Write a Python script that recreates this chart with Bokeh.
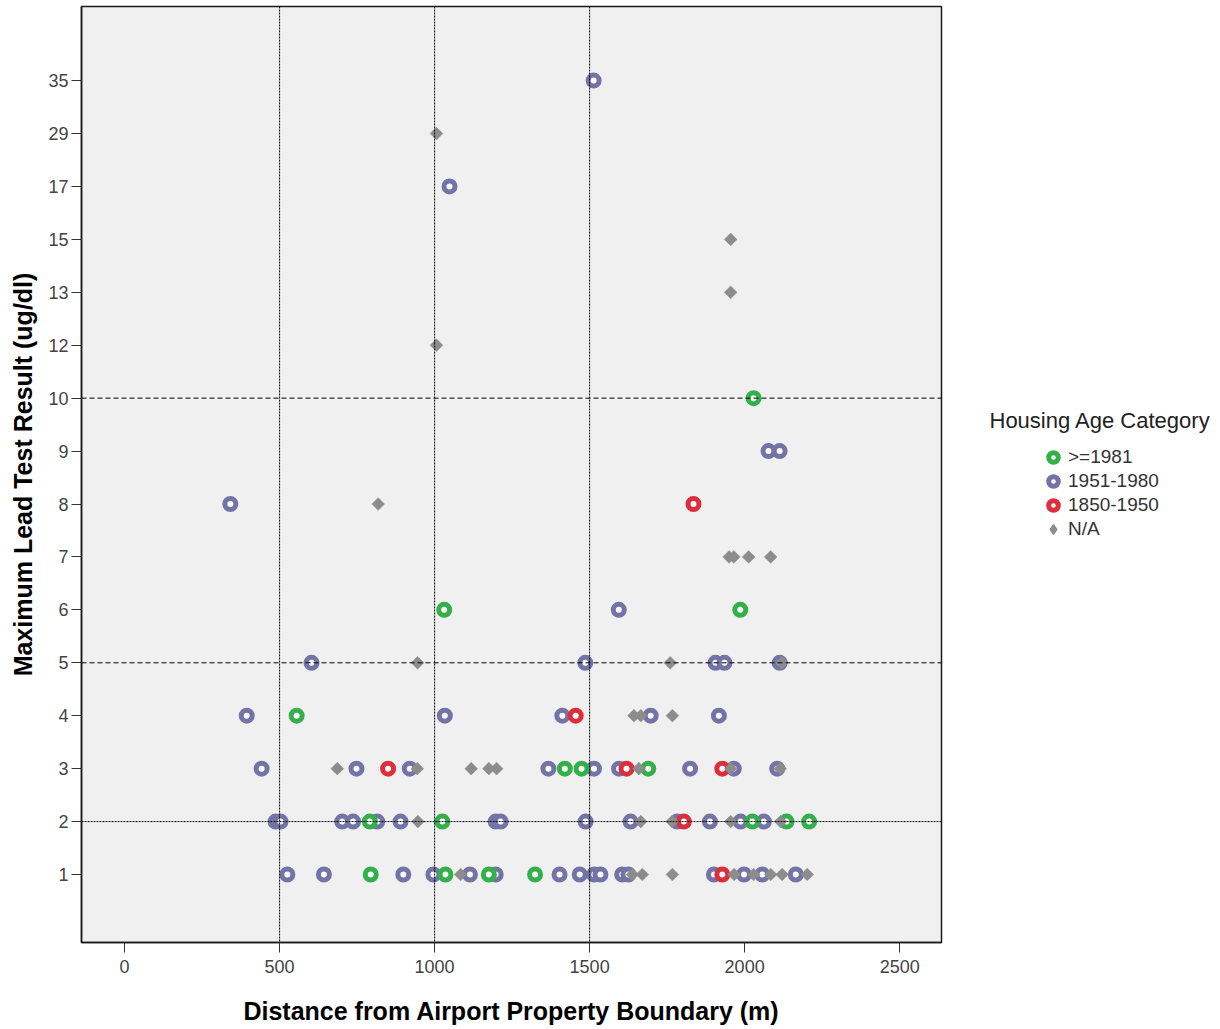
import math
from bokeh.plotting import figure
from bokeh.layouts import row
from bokeh.models import FixedTicker, Span, Legend, LegendItem, Label, ColumnDataSource, Range1d
from bokeh.embed import file_html
from bokeh.resources import INLINE

# ---------------- data ----------------
y_levels = [1, 2, 3, 4, 5, 6, 7, 8, 9, 10, 12, 13, 15, 17, 29, 35]
x_ticks = [0, 500, 1000, 1500, 2000, 2500]
ref_x = [500, 1000, 1500]
ref_y_dotted = [2]
ref_y_dashed = [5, 10]

legend_title = "Housing Age Category"
categories = [">=1981", "1951-1980", "1850-1950", "N/A"]

green_x = [794, 1035, 1175, 1324,
           791, 1025, 2025, 2135, 2208,
           1420, 1474, 1689,
           555,
           1031, 1986,
           2029]
green_y = [1, 1, 1, 1,
           2, 2, 2, 2, 2,
           3, 3, 3,
           4,
           6, 6,
           10]

purple_x = [525, 643, 899, 996, 1114, 1197, 1403, 1468, 1515, 1535, 1605, 1625, 1901, 1998, 2057, 2165,
            487, 503, 702, 737, 815, 890, 1197, 1213, 1487, 1632, 1782, 1888, 1987, 2062,
            442, 748, 920, 1367, 1514, 1595, 1824, 1965, 2105,
            394, 1033, 1412, 1697, 1917,
            603, 1486, 1906, 1935, 2113,
            1594, 341, 2077, 2113, 1048, 1513]
purple_y = [1, 1, 1, 1, 1, 1, 1, 1, 1, 1, 1, 1, 1, 1, 1, 1,
            2, 2, 2, 2, 2, 2, 2, 2, 2, 2, 2, 2, 2, 2,
            3, 3, 3, 3, 3, 3, 3, 3, 3,
            4, 4, 4, 4, 4,
            5, 5, 5, 5, 5,
            6, 8, 9, 9, 17, 35]

red_x = [1928, 1804, 850, 1619, 1928, 1455, 1835]
red_y = [1, 2, 3, 3, 3, 4, 8]

na_x = [1084, 1638, 1670, 1767, 1966, 2029, 2084, 2121, 2202,
        946, 1665, 1766, 1955, 2116,
        686, 944, 1118, 1175, 1200, 1659, 1955, 2115,
        1643, 1665, 1767,
        945, 1760, 2120,
        1950, 1965, 2013, 2084,
        818, 1006, 1955, 1955, 1006]
na_y = [1, 1, 1, 1, 1, 1, 1, 1, 1,
        2, 2, 2, 2, 2,
        3, 3, 3, 3, 3, 3, 3, 3,
        4, 4, 4,
        5, 5, 5,
        7, 7, 7, 7,
        8, 12, 13, 15, 29]

# ---------------- styling ----------------
FONT = "Liberation Sans"
C_GREEN = "#33b04a"
C_PURPLE = "#7374a5"
C_RED = "#dc2f3b"
C_GRAY = "#8c8c8c"
H = 1027
FRAME_TOP = 6
FRAME_BOTTOM = 942


def idx(vals):
    return [y_levels.index(v) for v in vals]


src_p = ColumnDataSource(dict(x=purple_x, y=idx(purple_y)))
src_g = ColumnDataSource(dict(x=green_x, y=idx(green_y)))
src_r = ColumnDataSource(dict(x=red_x, y=idx(red_y)))
src_n = ColumnDataSource(dict(x=na_x, y=idx(na_y)))

p = figure(width=943, height=H, output_backend="svg", toolbar_location=None,
           x_range=Range1d(-139, 2635), y_range=Range1d(-1.285, 16.40),
           min_border_left=81, min_border_right=2, min_border_top=FRAME_TOP,
           min_border_bottom=H - FRAME_BOTTOM)

p.background_fill_color = "#f0f0f0"
p.border_fill_color = "white"
p.outline_line_color = "#1a1a1a"
p.outline_line_width = 1.5
p.xgrid.grid_line_color = None
p.ygrid.grid_line_color = None

# reference lines
for xv in ref_x:
    p.add_layout(Span(location=xv, dimension="height", line_color="black",
                      line_width=1, line_dash="2 1"))
for yv in ref_y_dotted:
    p.add_layout(Span(location=y_levels.index(yv), dimension="width", line_color="black",
                      line_width=1, line_dash="2 1"))
for yv in ref_y_dashed:
    p.add_layout(Span(location=y_levels.index(yv), dimension="width", line_color="black",
                      line_width=1, line_dash="5 3"))

ring = dict(marker="circle", size=11, line_width=5, fill_color="#fbfbfb")
dia = dict(marker="square", size=9, angle=math.pi / 4, fill_color=C_GRAY,
           line_color=C_GRAY, line_width=0.5)

p.scatter("x", "y", source=src_p, line_color=C_PURPLE, **ring)
p.scatter("x", "y", source=src_g, line_color=C_GREEN, **ring)
p.scatter("x", "y", source=src_r, line_color=C_RED, **ring)
p.scatter("x", "y", source=src_n, **dia)

# axes
for ax in (p.xaxis[0], p.yaxis[0]):
    ax.axis_line_color = "#1a1a1a"
    ax.axis_line_width = 1.5
    ax.major_tick_line_color = "#333333"
    ax.major_tick_out = 10
    ax.major_tick_in = 0
    ax.minor_tick_line_color = None
    ax.major_label_text_font = FONT
    ax.major_label_text_font_size = "18px"
    ax.major_label_text_color = "#444444"
    ax.axis_label_text_font = FONT
    ax.axis_label_text_font_size = "25px"
    ax.axis_label_text_font_style = "bold"
    ax.axis_label_text_color = "black"

p.xaxis.ticker = FixedTicker(ticks=x_ticks)
p.xaxis.major_label_standoff = 7
p.xaxis.axis_label = "Distance from Airport Property Boundary (m)"
p.xaxis.axis_label_standoff = 21

p.yaxis.ticker = FixedTicker(ticks=list(range(len(y_levels))))
p.yaxis.major_label_overrides = {i: str(v) for i, v in enumerate(y_levels)}
p.yaxis.major_label_standoff = 3
p.yaxis.axis_label = "Maximum Lead Test Result (ug/dl)"
p.yaxis.axis_label_standoff = 8

# ---------------- legend panel ----------------
# (a second, axis-less figure; its renderers share the data sources but
#  its ranges keep the points out of view, so only the legend shows)
lg = figure(width=275, height=H, output_backend="svg", toolbar_location=None,
            x_range=Range1d(0, 1), y_range=Range1d(0, 1),
            min_border_left=0, min_border_right=0, min_border_top=FRAME_TOP,
            min_border_bottom=H - FRAME_BOTTOM)
lg.axis.visible = False
lg.xgrid.grid_line_color = None
lg.ygrid.grid_line_color = None
lg.outline_line_color = None
lg.background_fill_color = "white"
lg.border_fill_color = "white"

l_g = lg.scatter("x", "y", source=src_g, line_color=C_GREEN, **ring)
l_p = lg.scatter("x", "y", source=src_p, line_color=C_PURPLE, **ring)
l_r = lg.scatter("x", "y", source=src_r, line_color=C_RED, **ring)
l_n = lg.scatter("x", "y", source=src_n, marker="diamond", size=12,
                 fill_color=C_GRAY, line_color=C_GRAY, line_width=1.5)

legend = Legend(items=[LegendItem(label=categories[0], renderers=[l_g]),
                       LegendItem(label=categories[1], renderers=[l_p]),
                       LegendItem(label=categories[2], renderers=[l_r]),
                       LegendItem(label=categories[3], renderers=[l_n])],
                location=(98, FRAME_BOTTOM - 541), padding=0, margin=0, spacing=0,
                glyph_width=24, glyph_height=24, label_height=20, label_standoff=3,
                label_text_font=FONT, label_text_font_size="19px", label_text_color="#333333",
                border_line_color=None, background_fill_alpha=0)
lg.add_layout(legend)

lg.add_layout(Label(x=46, y=FRAME_BOTTOM - 420, x_units="screen", y_units="screen",
                    text=legend_title, text_font=FONT, text_font_size="22px",
                    text_color="#222222", text_baseline="middle", text_align="left"))

layout = row(p, lg, spacing=0)
open("out.html", "w").write(file_html(layout, INLINE))
